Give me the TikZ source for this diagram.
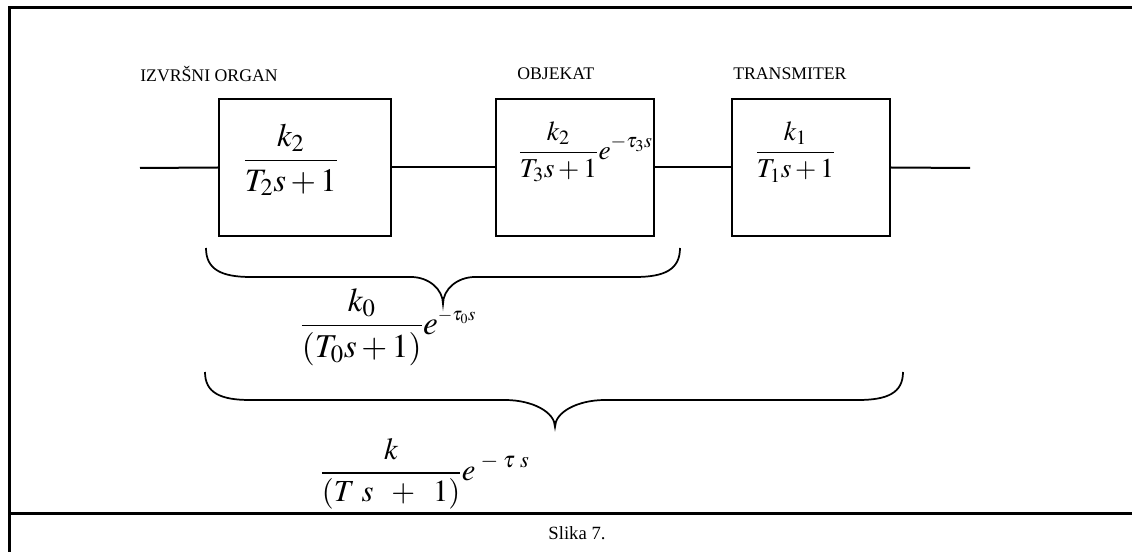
\documentclass[tikz,border=0pt]{standalone}
\usepackage{mathptmx}
\usepackage[no-math]{fontspec}
\setmainfont{Liberation Serif}
\usetikzlibrary{positioning}

\tikzset{
    blok/.style={draw, line width=1.5pt, minimum width=#1, minimum height=102.75pt, inner sep=0pt},
    natpis/.style={anchor=west, inner sep=0pt, font=\fontsize{13.3}{15}\selectfont},
    formula/.style={anchor=west, inner sep=0pt, font=\fontsize{#1}{#1}\selectfont},
    veza/.style={line width=1.5pt},
    vitica/.style={line width=1.3pt},
}
% x1, xvrh, x2, ykraj, ylinija, yvrh, sirina kraja, sirina vrha
\newcommand\zagrada[8]{%
    \draw[vitica] (#1,#4) .. controls (#1,{#4+0.75*(#5-#4)}) and ({#1+0.35*#7},#5) .. ({#1+#7},#5)
        -- ({#2-#8},#5) .. controls ({#2-0.45*#8},#5) and (#2,{#5+0.45*(#6-#5)}) .. (#2,#6)
        .. controls (#2,{#5+0.45*(#6-#5)}) and ({#2+0.45*#8},#5) .. ({#2+#8},#5)
        -- ({#3-#7},#5) .. controls ({#3-0.35*#7},#5) and (#3,{#4+0.75*(#5-#4)}) .. (#3,#4);}

\begin{document}
\begin{tikzpicture}[x=0.75pt,y=-0.75pt]
    \useasboundingbox (0,0) rectangle (1132,552);
    % okvir
    \draw[line width=2.25pt] (9,552) -- (9,8) -- (1132,8);
    \draw[line width=2.25pt] (9,513) -- (1132,513);
    \node[font=\fontsize{14}{16}\selectfont] (slika) at (577,533) {Slika 7.};

    \node[blok=129pt] (izvrsni) at (305,167.5) {};
    \node[blok=118.5pt] (objekat) at (574.5,167.5) {};
    \node[blok=118.5pt] (transmiter) at (811,167.5) {};

    \node[natpis] (lizvrsni) at (140,74) {IZVRŠNI ORGAN};
    \node[natpis] (lobjekat) at (517,74) {OBJEKAT};
    \node[natpis] (ltransmiter) at (733,74) {TRANSMITER};

    \coordinate (ulaz) at (140,168);
    \coordinate (izlaz) at (970,168);
    \draw[veza] (ulaz) -- (izvrsni.west);
    \draw[veza] (izvrsni.east) -- (objekat.west);
    \draw[veza] (objekat.east) -- (transmiter.west);
    \draw[veza] (transmiter.east) -- (izlaz);

    \node[formula=24.5] (f2) at (243,160) {$\displaystyle\frac{k_2}{T_2 s+1}$};
    \node[formula=20.5] (f3) at (518,152) {$\displaystyle\frac{k_2}{T_3 s+1}e^{-\tau_3 s}$};
    \node[formula=20.5] (f1) at (755,152) {$\displaystyle\frac{k_1}{T_1 s+1}$};

    \zagrada{206}{443}{680}{248}{277}{304}{45}{32}
    \node[formula=25] (f0) at (300,327) {$\displaystyle\frac{k_0}{(T_0 s+1)}e^{\mbox{\fontsize{14}{14}\selectfont$-\tau_0 s$}}$};

    \zagrada{205}{555}{903}{372}{400}{427}{45}{50}
    \node[formula=23] (fuk) at (320,474) {$\displaystyle\frac{k}{(T\,\,s\;\;+\;\;1)}e^{\;-\;\tau\;s}$};
\end{tikzpicture}
\end{document}
